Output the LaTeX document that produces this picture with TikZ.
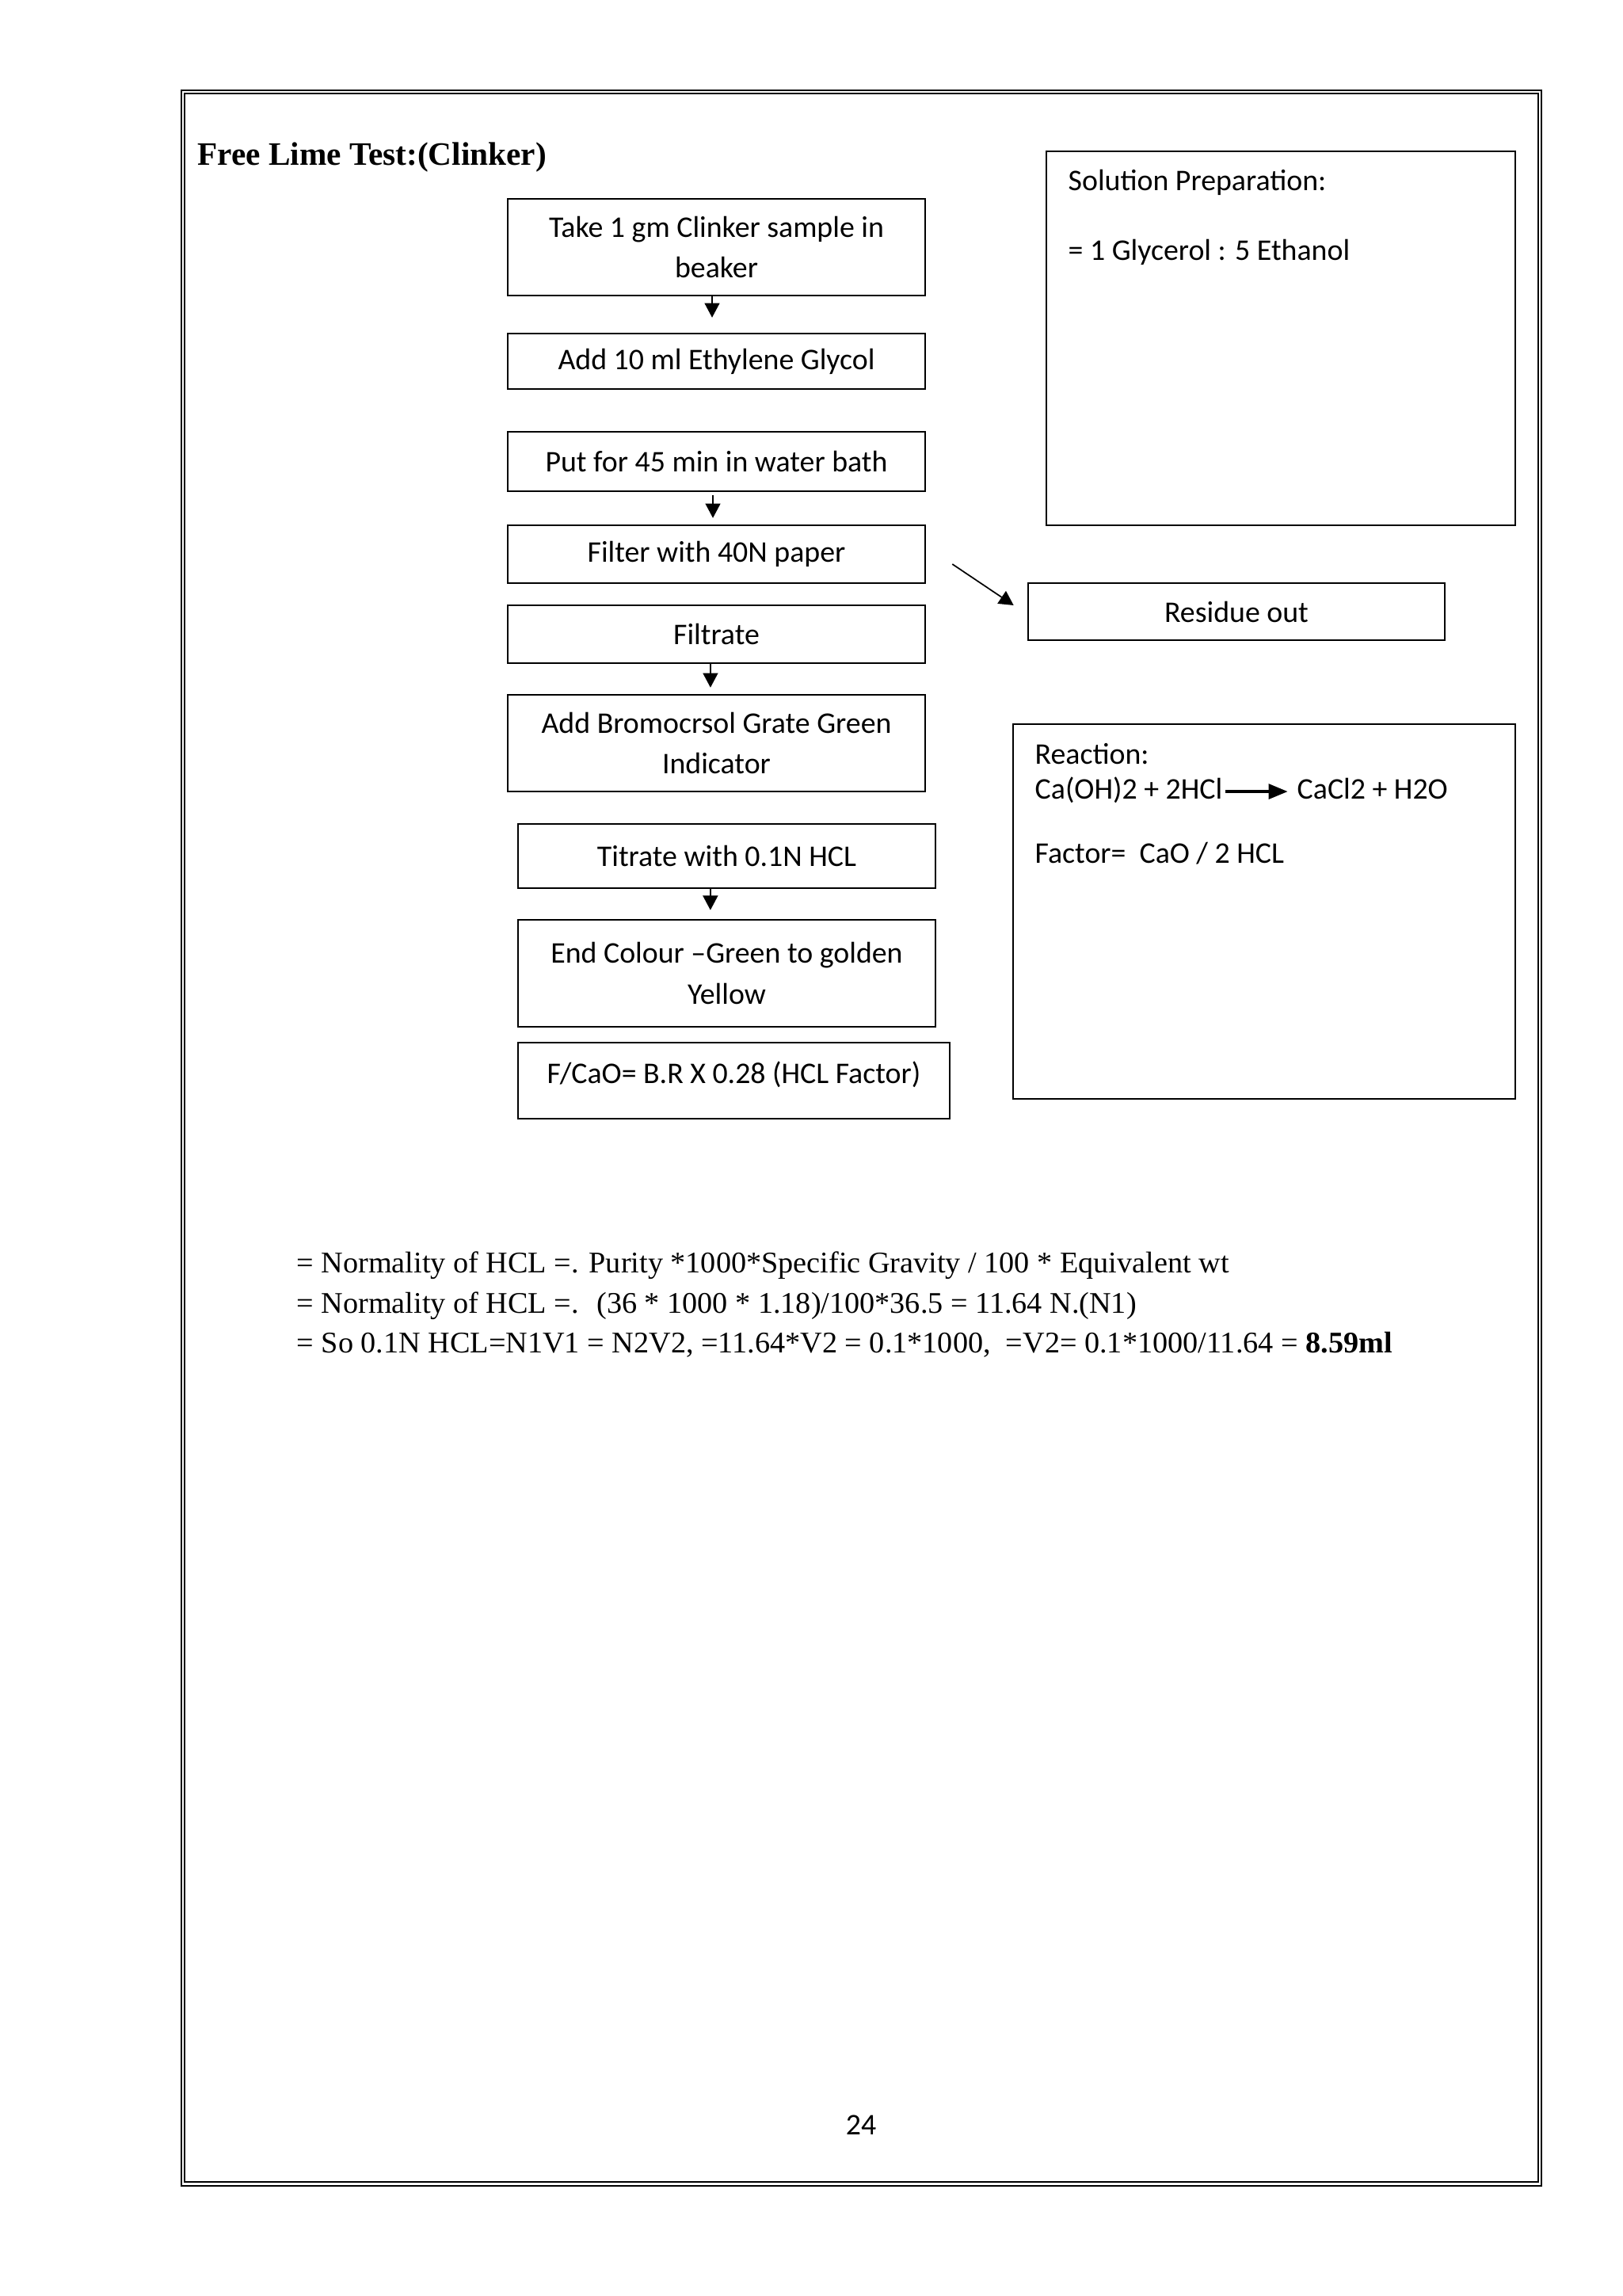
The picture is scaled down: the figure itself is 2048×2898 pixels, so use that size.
\documentclass[tikz,border=0pt]{standalone}
\usepackage{fontspec}
\setmainfont{Carlito}
\newfontfamily\titlefont{Liberation Serif}
\newfontfamily\formfont[FakeStretch=1.01]{Liberation Serif}
\usetikzlibrary{arrows.meta}
\tikzset{
  box/.style={draw, line width=0.75pt, inner sep=0pt, align=center, font=\fontsize{11}{15}\selectfont},
  plain/.style={inner sep=0pt, anchor=base west, font=\fontsize{11}{13}\selectfont},
  formline/.style={inner sep=0pt, anchor=base west, font=\formfont\fontsize{11}{13}\selectfont},
  arr/.style={-{Triangle[length=5.3pt,width=5.5pt]}, line width=0.5pt},
  rarr/.style={-{Triangle[length=7pt,width=5.5pt]}, line width=1pt},
  frame/.style={line width=0.6pt}
}
% name, x1, y1, x2, y2, text  (pixel units)
\newcommand\flowbox[6]{%
  \node[box, minimum width={(#4-#2)*0.29067pt}, minimum height={(#5-#3)*0.29067pt}]
    (#1) at ({(#2+#4)/2},{(#3+#5)/2}) {#6};}
\begin{document}
\begin{tikzpicture}[x=0.29067pt, y=-0.29067pt]
\useasboundingbox (0,0) rectangle (2048,2898);
\fill[white] (0,0) rectangle (2048,2898);
% page frame
\draw[frame] (229,114) rectangle (1946,2759);
\draw[frame] (233,118) rectangle (1942,2754);
% title
\node[inner sep=0pt, anchor=base west, font=\titlefont\bfseries\fontsize{12}{14}\selectfont] (title) at (249,208) {Free Lime Test:(Clinker)};
% flow boxes
\flowbox{b1}{641}{251}{1168}{373}{Take 1 gm Clinker sample in\\beaker}
\flowbox{b2}{641}{421}{1168}{491}{\strut Add 10 ml Ethylene Glycol}
\flowbox{b3}{641}{545}{1168}{620}{Put for 45 min in water bath}
\flowbox{b4}{641}{663}{1168}{736}{\strut Filter with 40N paper}
\flowbox{b5}{641}{764}{1168}{837}{Filtrate}
\flowbox{b6}{641}{877}{1168}{999}{Add Bromocrsol Grate Green\\Indicator}
\flowbox{b7}{654}{1040}{1181}{1121}{Titrate with 0.1N HCL}
\flowbox{b8}{654}{1161}{1181}{1296}{End Colour –Green to golden\\Yellow}
\flowbox{b9}{654}{1316}{1199}{1412}{}
\node[plain, anchor=center] (b9t) at ([yshift=2.3pt]b9.center) {F/CaO= B.R X 0.28 (HCL Factor)};
\flowbox{res}{1298}{736}{1824}{808}{Residue out}
% side boxes
\flowbox{sol}{1321}{191}{1913}{663}{}
\node[plain] (sol1) at (1348,240) {Solution Preparation:};
\node[plain] (sol2) at (1348,328) {= 1 Glycerol : 5 Ethanol};
\flowbox{rea}{1279}{914}{1913}{1387}{}
\node[plain] (rea1) at (1306,964) {Reaction:};
\node[plain] (rea2) at (1306,1008) {Ca(OH)2 + 2HCl};
\node[plain] (rea3) at (1637,1008) {CaCl2 + H2O};
\node[plain] (rea4) at (1306,1089) {Factor=~ CaO / 2 HCL};
\draw[rarr, shorten <=1pt, shorten >=3.3pt] ([yshift=2.6pt]rea2.base east) -- ([yshift=2.6pt]rea3.base west);
% connectors
\draw[arr, shorten >=5.5pt] ([xshift=-1.6pt]b1.south) -- ([xshift=-1.6pt]b2.north);
\draw[arr, shorten <=1.2pt, shorten >=2.3pt] ([xshift=-1.3pt]b3.south) -- ([xshift=-1.3pt]b4.north);
\draw[arr, shorten >=2.3pt] ([xshift=-2.2pt]b5.south) -- ([xshift=-2.2pt]b6.north);
\draw[arr, shorten >=3.2pt] ([xshift=-6pt]b7.south) -- ([xshift=-6pt]b8.north);
\draw[arr] ([shift={(33,12.5)}]b4.east) -- ([shift={(-17,-8)}]res.west);
% formulas
\node[formline] (f1) at (374,1606) {= Normality of HCL =. Purity *1000*Specific Gravity / 100 * Equivalent wt};
\node[formline] (f2) at (374,1657) {= Normality of HCL =.~ (36 * 1000 * 1.18)/100*36.5 = 11.64 N.(N1)};
\node[formline] (f3) at (374,1707) {= So 0.1N HCL=N1V1 = N2V2, =11.64*V2 = 0.1*1000,~ =V2= 0.1*1000/11.64 = \textbf{8.59ml}};
% page number
\node[inner sep=0pt, anchor=base, font=\fontsize{11}{13}\selectfont] (pg) at (1087,2694) {24};
\end{tikzpicture}
\end{document}
